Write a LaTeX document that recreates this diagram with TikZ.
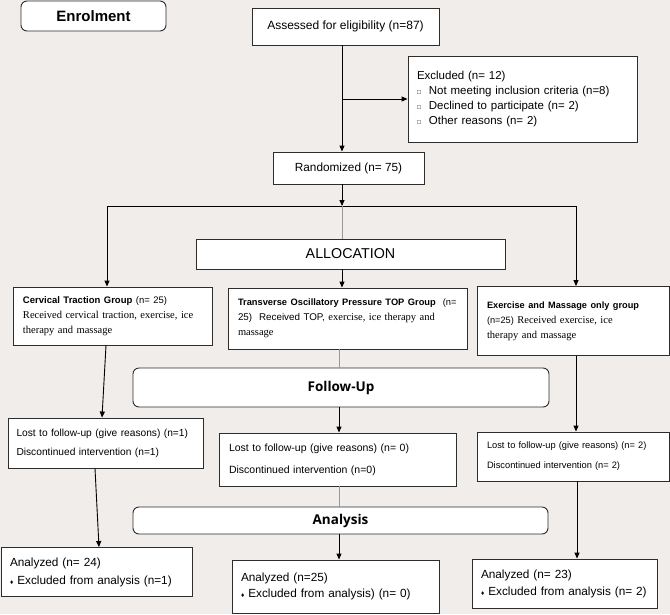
\documentclass[tikz,border=0pt]{standalone}
\usepackage{fontspec}
\setmainfont{Liberation Sans}
\newfontfamily\tnr{Liberation Serif}
\newfontfamily\osans{Open Sans}
\usetikzlibrary{arrows.meta}
\definecolor{bgc}{RGB}{240,237,235}
\definecolor{edgec}{RGB}{45,45,45}
\begin{document}
\begin{tikzpicture}[x=1pt,y=-1pt,
  box/.style={draw=edgec, line width=0.9pt, fill=white, inner sep=0pt},
  rbox/.style={box, rounded corners=6pt},
  lbox/.style={box, align=left, inner xsep=10pt},
  arr/.style={draw=black, line width=0.9pt, -{Triangle[length=6pt,width=5pt]}},
  plain/.style={draw=black, line width=0.9pt},
  grayline/.style={draw=gray!80, line width=0.9pt}]
\useasboundingbox (0,0) rectangle (670,614);
\fill[bgc] (0,0) rectangle (670,614);

% column coordinates
\coordinate (c342) at (342,0);
\coordinate (c339) at (339,0);
\coordinate (c106) at (106,0);
\coordinate (c102) at (102,0);
\coordinate (c95) at (95,0);
\coordinate (c99) at (99,0);
\coordinate (c576) at (576,0);
\coordinate (c577) at (577,0);

% nodes
\node[rbox, minimum width=145pt, minimum height=30pt, font={\bfseries\fontsize{15}{17}\selectfont}] (enrol) at (93.5,16) {Enrolment};
\node[box, minimum width=187pt, minimum height=37pt, font={\fontsize{12}{14}\selectfont}] (assess) at (345.5,26.5) {Assessed for eligibility (n=87)};
\node[lbox, inner xsep=9pt, text width=211pt, minimum height=86pt, font={\fontsize{11.5}{15.3}\selectfont}] (excl) at (522.5,99)
  {Excluded (n= 12)\\
   {\fontsize{6.5}{15.3}\selectfont □}\hspace{8pt}Not meeting inclusion criteria (n=8)\\
   {\fontsize{6.5}{15.3}\selectfont □}\hspace{8pt}Declined to participate (n= 2)\\
   {\fontsize{6.5}{15.3}\selectfont □}\hspace{8pt}Other reasons (n= 2)\\[6pt]};
\node[box, minimum width=151pt, minimum height=32pt, font={\fontsize{11.8}{14}\selectfont}] (rand) at (348.5,168) {Randomized (n= 75)};
\node[box, minimum width=309pt, minimum height=30pt, font={\fontsize{14.3}{16}\selectfont}] (alloc) at (350.5,254) {ALLOCATION};

\node[lbox, text width=179pt, minimum height=58pt, font={\fontsize{10.5}{15}\selectfont}] (cerv) at (112.5,316)
  {{\fontsize{9.5}{15}\selectfont\textbf{Cervical Traction Group} (n= 25)}\\
   {\tnr Received cervical traction, exercise, ice}\\
   {\tnr therapy and massage}};
\node[lbox, text width=219pt, minimum height=61pt, font={\fontsize{10.5}{15}\selectfont}] (top) at (347.5,318.5)
  {{\fontsize{9.3}{15}\selectfont\textbf{Transverse Oscillatory Pressure TOP Group}\ \ (n=}\\
   {\fontsize{9.8}{15}\selectfont 25)\ \ Received TOP,} {\tnr exercise, ice therapy and}\\
   {\tnr massage}};
\node[lbox, text width=172pt, minimum height=69pt, font={\fontsize{10.5}{15}\selectfont}] (exer) at (573,321)
  {{\fontsize{9.2}{15}\selectfont\textbf{Exercise and Massage only group}}\\
   {\fontsize{9.2}{15}\selectfont (n=25)} {\tnr Received exercise, ice}\\
   {\tnr therapy and massage}\\[3pt]};

\node[rbox, minimum width=416pt, minimum height=39pt, font={\osans\bfseries\fontsize{13.5}{16}\selectfont}] (follow) at (341,387.5) {Follow-Up};

\node[lbox, text width=178pt, inner xsep=8.5pt, minimum height=50pt, font={\fontsize{10.2}{19}\selectfont}] (lost1) at (105.5,443)
  {Lost to follow-up (give reasons) (n=1)\\ Discontinued intervention (n=1)};
\node[lbox, text width=217pt, minimum height=53pt, font={\fontsize{10.5}{22}\selectfont}] (lost2) at (337.5,459.5)
  {Lost to follow-up (give reasons) (n= 0)\\ Discontinued intervention (n=0)};
\node[lbox, text width=172pt, minimum height=49pt, font={\fontsize{9.3}{20}\selectfont}] (lost3) at (573,456.5)
  {Lost to follow-up (give reasons) (n= 2)\\ Discontinued intervention (n= 2)\\[4pt]};

\node[rbox, minimum width=415pt, minimum height=27pt, font={\osans\bfseries\fontsize{13.5}{16}\selectfont}] (analysis) at (340.5,520.5) {Analysis};

\node[lbox, inner xsep=9pt, text width=173pt, minimum height=49pt, font={\fontsize{11.8}{18}\selectfont}] (an1) at (96.5,572)
  {Analyzed (n= 24)\\ {\fontsize{6.5}{18}\selectfont ♦}\hspace{4pt}Excluded from analysis (n=1)};
\node[lbox, inner xsep=9pt, text width=189pt, minimum height=53pt, font={\fontsize{11.8}{16.5}\selectfont}] (an2) at (335.5,586.5)
  {Analyzed (n=25)\\ {\fontsize{6.5}{16.5}\selectfont ♦}\hspace{4pt}Excluded from analysis) (n= 0)};
\node[lbox, inner xsep=9pt, text width=167pt, minimum height=49pt, font={\fontsize{11.8}{17}\selectfont}] (an3) at (564.5,583.5)
  {Analyzed (n= 23)\\ {\fontsize{6.5}{17}\selectfont ♦}\hspace{4pt}Excluded from analysis (n= 2)};

% connectors
\coordinate (br) at (342,99);
\coordinate (split) at (342,206);
\coordinate (hl) at (107,206);
\coordinate (hr) at (576,206);
\draw[arr] (assess.south -| c342) -- (rand.north -| c342);
\draw[arr] (br) -- (excl.west);
\draw[arr] (rand.south -| c342) -- (split);
\draw[plain] (hl) -- (hr);
\draw[arr] (hl) -- (cerv.north -| hl);
\draw[arr] (hr) -- (exer.north -| hr);
\draw[grayline] (split) -- (alloc.north -| split);
\draw[arr] (alloc.south -| c342) -- (top.north -| c342);
\draw[arr] (cerv.south -| c106) -- (lost1.north -| c102);
\draw[grayline] (top.south -| c339) -- (follow.north -| c339);
\draw[arr] (follow.south -| c339) -- (lost2.north -| c339);
\draw[arr] (exer.south -| c576) -- (lost3.north -| c576);
\draw[arr] (lost1.south -| c95) -- (an1.north -| c99);
\draw[grayline] (lost2.south -| c339) -- (analysis.north -| c339);
\draw[arr] (analysis.south -| c339) -- (an2.north -| c339);
\draw[arr] (lost3.south -| c577) -- (an3.north -| c577);
\end{tikzpicture}
\end{document}
